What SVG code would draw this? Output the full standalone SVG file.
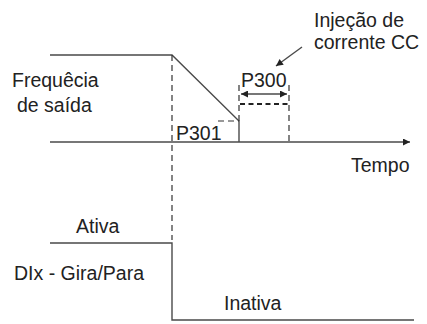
<svg xmlns="http://www.w3.org/2000/svg" width="427" height="324" viewBox="0 0 427 324">
<style>
.ln{stroke:#4a4a4a;stroke-width:1.4;fill:none}
.ds{stroke:#333;stroke-width:1.2;fill:none;stroke-dasharray:6 4}
.ds2{stroke:#222;stroke-width:1.8;fill:none;stroke-dasharray:5 3.5}
text{font-family:"Liberation Sans",Arial,sans-serif;font-size:19.5px;fill:#222}
</style>
<defs>
<marker id="ah" viewBox="0 0 10 10" refX="10" refY="5" markerWidth="9" markerHeight="7" markerUnits="userSpaceOnUse" orient="auto-start-reverse">
<path d="M0,0 L10,5 L0,10 z" fill="#222"/>
</marker>
</defs>
<rect width="427" height="324" fill="#fff"/>
<g id="connectors">
<path class="ln" d="M50,55 H172 L239,121 V142"/>
<path class="ln" d="M50,142 H410" marker-end="url(#ah)"/>
<path class="ds" d="M172,55 V240"/>
<path class="ds" d="M239,85 V121"/>
<path class="ds" d="M289,85 V142"/>
<path class="ds" d="M218,121 H239"/>
<path class="ds2" d="M240,104 H289"/>
<path class="ln" d="M241,94 H287" marker-start="url(#ah)" marker-end="url(#ah)"/>
<path class="ln" d="M302,47 L276,66" marker-end="url(#ah)"/>
<path class="ln" d="M50,243 H172 V320 H414"/>
</g>
<g id="labels">
<text x="314" y="27">Injeção de</text>
<text x="314" y="49">corrente CC</text>
<text x="12" y="87">Frequêcia</text>
<text x="17" y="112">de saída</text>
<text x="241" y="87">P300</text>
<text x="176" y="140">P301</text>
<text x="351" y="172">Tempo</text>
<text x="76" y="233">Ativa</text>
<text x="14" y="280">DIx - Gira/Para</text>
<text x="224" y="310">Inativa</text>
</g>
</svg>
